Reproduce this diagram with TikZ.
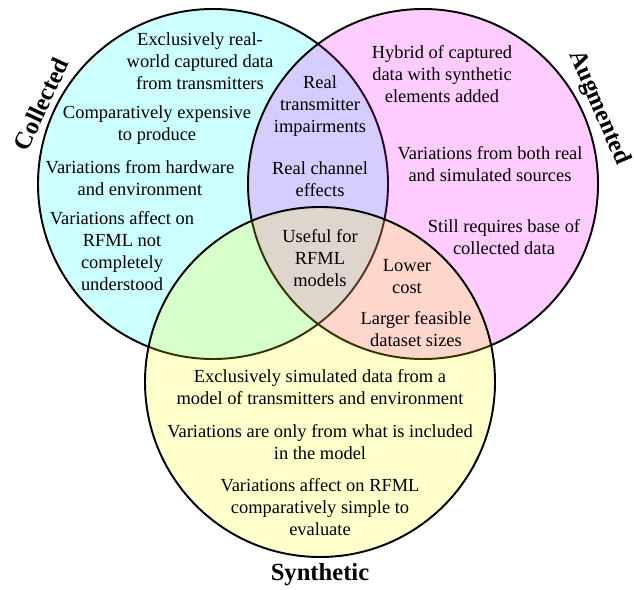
\documentclass[tikz,border=0pt]{standalone}
\usepackage{fontspec}
\setmainfont{Liberation Serif}
\definecolor{colfill}{RGB}{0,255,255}
\definecolor{augfill}{RGB}{255,0,255}
\definecolor{synfill}{RGB}{255,255,0}
\begin{document}
\begin{tikzpicture}[
    txt/.style={align=center,inner sep=1pt,font=\fontsize{10.5}{12.5}\selectfont},
    ttl/.style={inner sep=0pt,font=\fontsize{14}{16}\selectfont\bfseries},
    setc/.style={line width=1.1pt,fill opacity=0.2}]
                \useasboundingbox (0,0) rectangle (12.68,-11.78);
                \draw[setc,fill=colfill] (4.26,-3.68) circle (3.5cm);
                \draw[setc,fill=augfill] (8.46,-3.68) circle (3.5cm);
                \draw[setc,fill=synfill] (6.4,-7.64) circle (3.5cm);
                % collected only
                \node[txt] (col1) at (4.0,-1.22) {Exclusively real-\\world captured data\\from transmitters};
                \node[txt] (col2) at (3.14,-2.5) {Comparatively expensive\\to produce};
                \node[txt] (col3) at (2.8,-3.56) {Variations from hardware\\and environment};
                \node[txt] (col4) at (2.44,-5.02) {Variations affect on\\RFML not\\completely\\understood};
                % collected and augmented
                \node[txt] (colaug1) at (6.4,-2.12) {Real\\transmitter\\impairments};
                \node[txt] (colaug2) at (6.4,-3.58) {Real channel\\effects};
                % augmented only
                \node[txt] (aug1) at (8.84,-1.48) {Hybrid of captured\\data with synthetic\\elements added};
                \node[txt] (aug2) at (9.8,-3.28) {Variations from both real\\and simulated sources};
                \node[txt] (aug3) at (10.08,-4.74) {Still requires base of\\collected data};
                % all three
                \node[txt] (all) at (6.4,-5.16) {Useful for\\RFML\\models};
                % augmented and synthetic
                \node[txt] (augsyn1) at (8.14,-5.54) {Lower\\cost};
                \node[txt] (augsyn2) at (8.32,-6.58) {Larger feasible\\dataset sizes};
                % synthetic only
                \node[txt] (syn1) at (6.4,-7.74) {Exclusively simulated data from a\\model of transmitters and environment};
                \node[txt] (syn2) at (6.4,-8.84) {Variations are only from what is included\\in the model};
                \node[txt] (syn3) at (6.4,-10.14) {Variations affect on RFML\\comparatively simple to\\evaluate};
                % titles
                \node[ttl,rotate=65] (coltitle) at (0.82,-2.08) {Collected};
                \node[ttl,rotate=-67] (augtitle) at (11.98,-2.16) {Augmented};
                \node[ttl] (syntitle) at (6.4,-11.5) {Synthetic};
            \end{tikzpicture}
\end{document}
